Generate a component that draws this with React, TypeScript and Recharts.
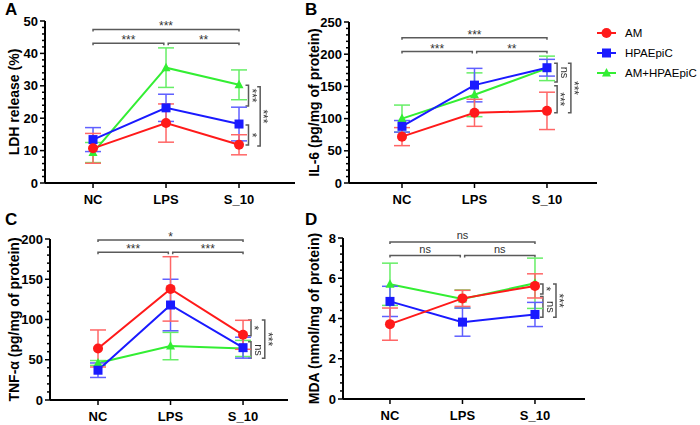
import React from "react";
import { LineChart, Line, XAxis, YAxis, ErrorBar, ReferenceLine, Label } from "recharts";

const groups = ["NC", "LPS", "S_10"];

// A: LDH release (%)
const ldhAM = [10.7, 18.5, 11.8];
const ldhAMSd = [4.6, 5.9, 3.1];
const ldhHP = [13.4, 23.2, 18.2];
const ldhHPSd = [3.7, 4.2, 5.2];
const ldhCo = [9.4, 35.6, 30.3];
const ldhCoSd = [3.1, 6.1, 4.6];

// B: IL-6 (pg/mg of protein)
const il6AM = [72, 109, 112];
const il6AMSd = [14, 21, 29];
const il6HP = [88, 152, 179];
const il6HPSd = [9, 26, 13];
const il6Co = [100, 137, 178];
const il6CoSd = [21, 34, 19];

// C: TNF-α (pg/mg of protein)
const tnfAM = [64, 138, 81];
const tnfAMSd = [23, 40, 18];
const tnfHP = [37, 118, 65];
const tnfHPSd = [9, 32, 13];
const tnfCo = [46, 67, 64];
const tnfCoSd = [3, 17, 10];

// D: MDA (nmol/mg of protein)
const mdaAM = [3.72, 5.0, 5.62];
const mdaAMSd = [0.8, 0.4, 0.6];
const mdaHP = [4.85, 3.82, 4.2];
const mdaHPSd = [0.75, 0.7, 0.6];
const mdaCo = [5.7, 4.97, 5.75];
const mdaCoSd = [1.05, 0.45, 1.25];

// significance brackets (data units)
const ldhTop = [
  { from: 0, to: 2, at: 47.4, label: "***" },
  { from: 0, to: 0.97, at: 43.1, label: "***" },
  { from: 1.03, to: 2, at: 43.1, label: "**" },
];
const ldhSide = [
  { at: 2.13, from: 30.2, to: 23.8, label: "***" },
  { at: 2.13, from: 17.9, to: 11.7, label: "*" },
  { at: 2.29, from: 29.7, to: 11.4, label: "***" },
];
const il6Top = [
  { from: 0, to: 2, at: 225.6, label: "***" },
  { from: 0, to: 0.97, at: 204, label: "***" },
  { from: 1.03, to: 2, at: 204, label: "**" },
];
const il6Side = [
  { at: 2.14, from: 186, to: 157, label: "ns" },
  { at: 2.14, from: 151, to: 109, label: "***" },
  { at: 2.33, from: 186, to: 109, label: "***" },
];
const tnfTop = [
  { from: 0, to: 2, at: 198.8, label: "*" },
  { from: 0, to: 0.97, at: 183.5, label: "***" },
  { from: 1.03, to: 2, at: 183.5, label: "***" },
];
const tnfSide = [
  { at: 2.11, from: 99.4, to: 79.9, label: "*" },
  { at: 2.11, from: 72.4, to: 51.8, label: "ns" },
  { at: 2.3, from: 99.4, to: 51.8, label: "***" },
];
const mdaTop = [
  { from: 0, to: 2, at: 7.8, label: "ns" },
  { from: 0, to: 0.97, at: 7.13, label: "ns" },
  { from: 1.03, to: 2, at: 7.13, label: "ns" },
];
const mdaSide = [
  { at: 2.11, from: 5.72, to: 5.22, label: "*" },
  { at: 2.11, from: 5.09, to: 4.06, label: "ns" },
  { at: 2.29, from: 5.72, to: 4.06, label: "***" },
];

const FONT = "'Liberation Sans', Arial, sans-serif";
const RED = "#ff1a1a";
const BLUE = "#1a1aff";
const GREEN = "#33ee33";

const legendItems = [
  { name: "AM", color: RED, shape: "circle" },
  { name: "HPAEpiC", color: BLUE, shape: "square" },
  { name: "AM+HPAEpiC", color: GREEN, shape: "triangle" },
];

function Marker({ cx, cy, fill, shape }: any) {
  if (cx == null || cy == null) return <g />;
  if (shape === "square") return <rect x={cx - 4.5} y={cy - 4.5} width={9} height={9} fill={fill} />;
  if (shape === "triangle")
    return <path d={`M${cx},${cy - 5}L${cx + 4.5},${cy + 3.5}L${cx - 4.5},${cy + 3.5}Z`} fill={fill} />;
  return <circle cx={cx} cy={cy} r={5} fill={fill} />;
}

function XTick({ x, y, payload }: any) {
  return (
    <g>
      <line x1={x} x2={x} y1={y} y2={y + 5} stroke="#000" strokeWidth={1.5} />
      <text x={x} y={y + 20.5} textAnchor="middle" fontSize={13} fontWeight="bold" fill="#000" fontFamily={FONT}>
        {groups[payload.value]}
      </text>
    </g>
  );
}

function YTick({ x, y, payload, major }: any) {
  const r = payload.value / major;
  const isMajor = Math.abs(r - Math.round(r)) < 1e-6;
  return (
    <g>
      <line x1={x} x2={x - (isMajor ? 5 : 3)} y1={y} y2={y} stroke="#000" strokeWidth={1.5} />
      {isMajor && (
        <text x={x - 7} y={y} dy="0.36em" textAnchor="end" fontSize={13} fontWeight="bold" fill="#000" fontFamily={FONT}>
          {Math.round(payload.value * 100) / 100}
        </text>
      )}
    </g>
  );
}

function isStars(label: string) {
  return /^\*+$/.test(label);
}

function HBracket({ x1, y1, x2, label }: any) {
  return (
    <g>
      <path d={`M${x1},${y1 + 2}V${y1}H${x2}V${y1 + 2}`} fill="none" stroke="#5a5a5a" strokeWidth={1.5} />
      <text x={(x1 + x2) / 2} y={y1 - (isStars(label) ? -1 : 3)} textAnchor="middle" fontSize={isStars(label) ? 12 : 11} fill="#333" fontFamily={FONT}>
        {label}
      </text>
    </g>
  );
}

function VBracket({ x1, y1, y2, label }: any) {
  const cx = x1 + (isStars(label) ? -1 : 4);
  const cy = (y1 + y2) / 2;
  return (
    <g>
      <path d={`M${x1 - 3},${y1}H${x1}V${y2}H${x1 - 3}`} fill="none" stroke="#5a5a5a" strokeWidth={1.5} />
      <g style={{ filter: "grayscale(1)" }}>
        <text x={cx} y={cy} transform={`rotate(90 ${cx} ${cy})`} textAnchor="middle" fontSize={isStars(label) ? 12 : 11} fill="#333" fontFamily={FONT}>
          {label}
        </text>
      </g>
    </g>
  );
}

function Panel({ letter, title, am, amSd, hp, hpSd, co, coSd, yMax, major, minor, tops, sides, frame }: any) {
  const data = groups.map((g, i) => ({
    x: i,
    am: am[i],
    amSd: amSd[i],
    hp: hp[i],
    hpSd: hpSd[i],
    co: co[i],
    coSd: coSd[i],
  }));
  const yTicks = Array.from({ length: Math.round(yMax / minor) + 1 }, (_, i) => +(i * minor).toFixed(3));

  return (
    <div style={{ position: "absolute", left: frame.left, top: frame.top, width: frame.width, height: frame.height }}>
      <LineChart
        width={frame.width}
        height={frame.height}
        data={data}
        margin={{ top: frame.plotTop, right: frame.width - frame.plotRight, bottom: frame.height - frame.plotBottom - 20, left: 0 }}
      >
        <XAxis
          dataKey="x"
          type="number"
          domain={frame.xDomain}
          ticks={[0, 1, 2]}
          allowDataOverflow
          interval={0}
          height={20}
          tickSize={0}
          tickMargin={0}
          tickLine={false}
          axisLine={{ stroke: "#000", strokeWidth: 2 }}
          tick={<XTick />}
        />
        <YAxis
          type="number"
          domain={[0, yMax]}
          ticks={yTicks}
          allowDataOverflow
          interval={0}
          width={frame.axisX}
          tickSize={0}
          tickMargin={0}
          tickLine={false}
          axisLine={{ stroke: "#000", strokeWidth: 2 }}
          tick={(p: any) => <YTick {...p} major={major} />}
        >
          <Label
            content={({ viewBox }: any) => {
              const cx = viewBox.x + 14;
              const cy = viewBox.y + viewBox.height / 2;
              return (
                <text
                  x={cx}
                  y={cy}
                  dy="0.36em"
                  transform={`rotate(-90 ${cx} ${cy})`}
                  textAnchor="middle"
                  fontSize={14}
                  fontWeight="bold"
                  fill="#000"
                  fontFamily={FONT}
                >
                  {title}
                </text>
              );
            }}
          />
        </YAxis>
        {tops.map((b: any, i: number) => (
          <ReferenceLine
            key={`t${i}`}
            segment={[{ x: b.from, y: b.at }, { x: b.to, y: b.at }]}
            ifOverflow="visible"
            shape={(p: any) => <HBracket {...p} label={b.label} />}
          />
        ))}
        {sides.map((b: any, i: number) => (
          <ReferenceLine
            key={`s${i}`}
            segment={[{ x: b.at, y: b.from }, { x: b.at, y: b.to }]}
            ifOverflow="visible"
            shape={(p: any) => <VBracket {...p} label={b.label} />}
          />
        ))}
        <Line
          dataKey="co"
          stroke={GREEN}
          strokeWidth={2}
          isAnimationActive={false}
          dot={(p: any) => <Marker key={`c${p.index}`} cx={p.cx} cy={p.cy} fill={GREEN} shape="triangle" />}
        >
          <ErrorBar dataKey="coSd" width={8} stroke="#66ee66" strokeWidth={1.5} isAnimationActive={false} />
        </Line>
        <Line
          dataKey="hp"
          stroke={BLUE}
          strokeWidth={2}
          isAnimationActive={false}
          dot={(p: any) => <Marker key={`h${p.index}`} cx={p.cx} cy={p.cy} fill={BLUE} shape="square" />}
        >
          <ErrorBar dataKey="hpSd" width={8} stroke="#6060ff" strokeWidth={1.5} isAnimationActive={false} />
        </Line>
        <Line
          dataKey="am"
          stroke={RED}
          strokeWidth={2}
          isAnimationActive={false}
          dot={(p: any) => <Marker key={`a${p.index}`} cx={p.cx} cy={p.cy} fill={RED} shape="circle" />}
        >
          <ErrorBar dataKey="amSd" width={8} stroke="#ff6666" strokeWidth={1.5} isAnimationActive={false} />
        </Line>
      </LineChart>
      <div style={{ position: "absolute", left: 5, top: 0, fontSize: 17, fontWeight: "bold", fontFamily: FONT, lineHeight: "20px" }}>
        {letter}
      </div>
    </div>
  );
}

function Legend() {
  return (
    <div style={{ position: "absolute", left: 597, top: 23, fontFamily: FONT, fontSize: 11.5, whiteSpace: "nowrap" }}>
      {legendItems.map((item) => (
        <div key={item.name} style={{ display: "flex", alignItems: "center", height: 20 }}>
          <svg width={20} height={12} style={{ marginRight: 8 }}>
            <line x1={0} x2={19} y1={6} y2={6} stroke={item.color} strokeWidth={2} />
            <Marker cx={9.5} cy={6} fill={item.color} shape={item.shape} />
          </svg>
          <span>{item.name}</span>
        </div>
      ))}
    </div>
  );
}

export default function App() {
  return (
    <div style={{ position: "absolute", left: 0, top: 0, width: 700, height: 425, background: "#fff", fontFamily: FONT, overflow: "hidden" }}>
      <Panel
        letter="A"
        title="LDH release (%)"
        am={ldhAM}
        amSd={ldhAMSd}
        hp={ldhHP}
        hpSd={ldhHPSd}
        co={ldhCo}
        coSd={ldhCoSd}
        yMax={50}
        major={10}
        minor={2}
        tops={ldhTop}
        sides={ldhSide}
        frame={{ left: 0, top: 0, width: 300, height: 210, axisX: 45, plotTop: 21, plotBottom: 183, plotRight: 295, xDomain: [-0.658, 2.767] }}
      />
      <Panel
        letter="B"
        title="IL-6 (pg/mg of protein)"
        am={il6AM}
        amSd={il6AMSd}
        hp={il6HP}
        hpSd={il6HPSd}
        co={il6Co}
        coSd={il6CoSd}
        yMax={250}
        major={50}
        minor={10}
        tops={il6Top}
        sides={il6Side}
        frame={{ left: 300, top: 0, width: 400, height: 210, axisX: 49, plotTop: 22, plotBottom: 183, plotRight: 297, xDomain: [-0.731, 2.69] }}
      />
      <Panel
        letter="C"
        title="TNF-α (pg/mg of protein)"
        am={tnfAM}
        amSd={tnfAMSd}
        hp={tnfHP}
        hpSd={tnfHPSd}
        co={tnfCo}
        coSd={tnfCoSd}
        yMax={200}
        major={50}
        minor={10}
        tops={tnfTop}
        sides={tnfSide}
        frame={{ left: 0, top: 210, width: 300, height: 215, axisX: 50, plotTop: 29, plotBottom: 190, plotRight: 288, xDomain: [-0.662, 2.62] }}
      />
      <Panel
        letter="D"
        title="MDA (nmol/mg of protein)"
        am={mdaAM}
        amSd={mdaAMSd}
        hp={mdaHP}
        hpSd={mdaHPSd}
        co={mdaCo}
        coSd={mdaCoSd}
        yMax={8}
        major={2}
        minor={0.4}
        tops={mdaTop}
        sides={mdaSide}
        frame={{ left: 300, top: 210, width: 400, height: 215, axisX: 43, plotTop: 28, plotBottom: 189, plotRight: 285, xDomain: [-0.648, 2.69] }}
      />
      <Legend />
    </div>
  );
}
